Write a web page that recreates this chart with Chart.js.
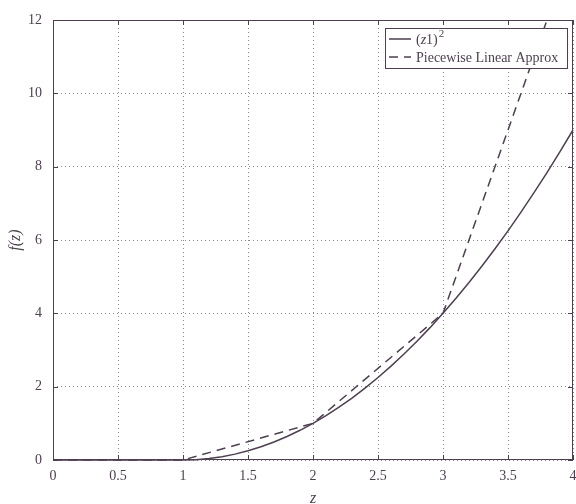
<!DOCTYPE html>
<html>
<head>
<meta charset="utf-8">
<script src="https://cdn.jsdelivr.net/npm/chart.js@4.4.0/dist/chart.umd.min.js"></script>
<style>
  html, body { margin: 0; padding: 0; background: #fff; }
  #wrap { width: 576px; height: 504px; }
</style>
</head>
<body>
<div id="wrap"><canvas id="chart"></canvas></div>
<script>
// curve samples
const zValues = [0, 0.1, 0.2, 0.3, 0.4, 0.5, 0.6, 0.7, 0.8, 0.9, 1,
    1.1, 1.2, 1.3, 1.4, 1.5, 1.6, 1.7, 1.8, 1.9, 2,
    2.1, 2.2, 2.3, 2.4, 2.5, 2.6, 2.7, 2.8, 2.9, 3,
    3.1, 3.2, 3.3, 3.4, 3.5, 3.6, 3.7, 3.8, 3.9, 4];
const curveValues = [0, 0, 0, 0, 0, 0, 0, 0, 0, 0, 0,
    0.01, 0.04, 0.09, 0.16, 0.25, 0.36, 0.49, 0.64, 0.81, 1,
    1.21, 1.44, 1.69, 1.96, 2.25, 2.56, 2.89, 3.24, 3.61, 4,
    4.41, 4.84, 5.29, 5.76, 6.25, 6.76, 7.29, 7.84, 8.41, 9];

// piecewise linear breakpoints
const approxZ = [0, 1, 2, 3, 4];
const approxValues = [0, 0, 1, 4, 14];

const xTicks = [0, 0.5, 1, 1.5, 2, 2.5, 3, 3.5, 4];
const yTicks = [0, 2, 4, 6, 8, 10, 12];

const ink = '#4d3f4f';
const serif = '"Liberation Serif", "DejaVu Serif", serif';

// box around the plot with small inward ticks
const boxPlugin = {
    id: 'box',
    afterDraw(chart) {
        const { ctx, chartArea: a, scales } = chart;
        ctx.save();
        ctx.strokeStyle = ink;
        ctx.lineWidth = 1;
        ctx.setLineDash([]);
        ctx.strokeRect(a.left + 0.5, a.top + 0.5, a.right - a.left - 1, a.bottom - a.top - 1);
        ctx.beginPath();
        xTicks.forEach(v => {
            const px = Math.round(scales.x.getPixelForValue(v)) + 0.5;
            ctx.moveTo(px, a.bottom); ctx.lineTo(px, a.bottom - 5);
            ctx.moveTo(px, a.top); ctx.lineTo(px, a.top + 5);
        });
        yTicks.forEach(v => {
            const py = Math.round(scales.y.getPixelForValue(v)) + 0.5;
            ctx.moveTo(a.left, py); ctx.lineTo(a.left + 5, py);
            ctx.moveTo(a.right, py); ctx.lineTo(a.right - 5, py);
        });
        ctx.stroke();
        ctx.restore();
    }
};

// legend box in the top right corner
const legendPlugin = {
    id: 'boxLegend',
    afterDraw(chart) {
        const { ctx, chartArea: a } = chart;
        const sets = chart.data.datasets;
        const x0 = 385, y0 = 28, w = a.right - 6 - x0, h = 40;
        ctx.save();
        ctx.fillStyle = '#fff';
        ctx.fillRect(x0, y0, w, h);
        ctx.strokeStyle = ink;
        ctx.lineWidth = 1;
        ctx.strokeRect(x0 + 0.5, y0 + 0.5, w, h);
        sets.forEach((ds, i) => {
            const y = y0 + 11 + i * 18;
            ctx.beginPath();
            ctx.setLineDash(ds.borderDash || []);
            ctx.lineWidth = 1.5;
            ctx.moveTo(x0 + 4, y);
            ctx.lineTo(x0 + 26, y);
            ctx.stroke();
            ctx.setLineDash([]);
            ctx.fillStyle = ink;
            ctx.textBaseline = 'middle';
            ctx.font = '14px ' + serif;
            let tx = x0 + 31;
            if (i === 0) {
                ctx.fillText('(', tx, y + 1);
                tx += ctx.measureText('(').width;
                ctx.font = 'italic 14px ' + serif;
                ctx.fillText('z', tx, y + 1);
                tx += ctx.measureText('z').width;
                ctx.font = '14px ' + serif;
                ctx.fillText('1)', tx, y + 1);
                tx += ctx.measureText('1)').width;
                ctx.font = '11px ' + serif;
                ctx.fillText('2', tx + 1, y - 5);
            } else {
                ctx.fillText(ds.label, tx, y + 1);
            }
        });
        ctx.restore();
    }
};

const gridStyle = {
    color: '#8a8a8a',
    lineWidth: 1,
    drawTicks: false
};

new Chart(document.getElementById('chart'), {
    type: 'line',
    data: {
        datasets: [
            {
                label: '(z1)^2',
                data: zValues.map((z, i) => ({ x: z, y: curveValues[i] })),
                borderColor: ink,
                borderWidth: 1.5,
                pointRadius: 0,
                tension: 0,
                clip: { left: 4, top: 0, right: 4, bottom: 4 }
            },
            {
                label: 'Piecewise Linear Approx',
                data: approxZ.map((z, i) => ({ x: z, y: approxValues[i] })),
                borderColor: ink,
                borderWidth: 1.5,
                borderDash: [9, 6],
                pointRadius: 0,
                tension: 0,
                clip: { left: 4, top: 0, right: 4, bottom: 4 }
            }
        ]
    },
    options: {
        responsive: true,
        maintainAspectRatio: false,
        animation: false,
        layout: { padding: { top: 20, right: 3, left: 0, bottom: 0 } },
        plugins: {
            legend: { display: false },
            tooltip: { enabled: false }
        },
        scales: {
            x: {
                type: 'linear',
                min: 0,
                max: 4,
                afterBuildTicks(scale) { scale.ticks = xTicks.map(v => ({ value: v })); },
                afterFit(scale) { scale.height = 44; scale.paddingLeft = 0; scale.paddingRight = 0; },
                grid: gridStyle,
                border: { display: false, dash: [1, 3] },
                ticks: {
                    color: ink,
                    padding: 8,
                    maxRotation: 0,
                    autoSkip: false,
                    font: { family: serif, size: 14 },
                    callback: v => String(v)
                },
                title: {
                    display: true,
                    text: 'z',
                    color: ink,
                    padding: { top: 0, bottom: -4 },
                    font: { family: serif, size: 16, style: 'italic' }
                }
            },
            y: {
                type: 'linear',
                min: 0,
                max: 12,
                afterBuildTicks(scale) { scale.ticks = yTicks.map(v => ({ value: v })); },
                afterFit(scale) { scale.width = 53; scale.paddingTop = 0; scale.paddingBottom = 0; },
                grid: gridStyle,
                border: { display: false, dash: [1, 3] },
                ticks: {
                    color: ink,
                    padding: 11,
                    font: { family: serif, size: 14 },
                    callback: v => String(v)
                },
                title: {
                    display: true,
                    text: 'f(z)',
                    color: ink,
                    padding: { top: 6, bottom: 0 },
                    font: { family: serif, size: 16, style: 'italic' }
                }
            }
        }
    },
    plugins: [boxPlugin, legendPlugin]
});
</script>
</body>
</html>
